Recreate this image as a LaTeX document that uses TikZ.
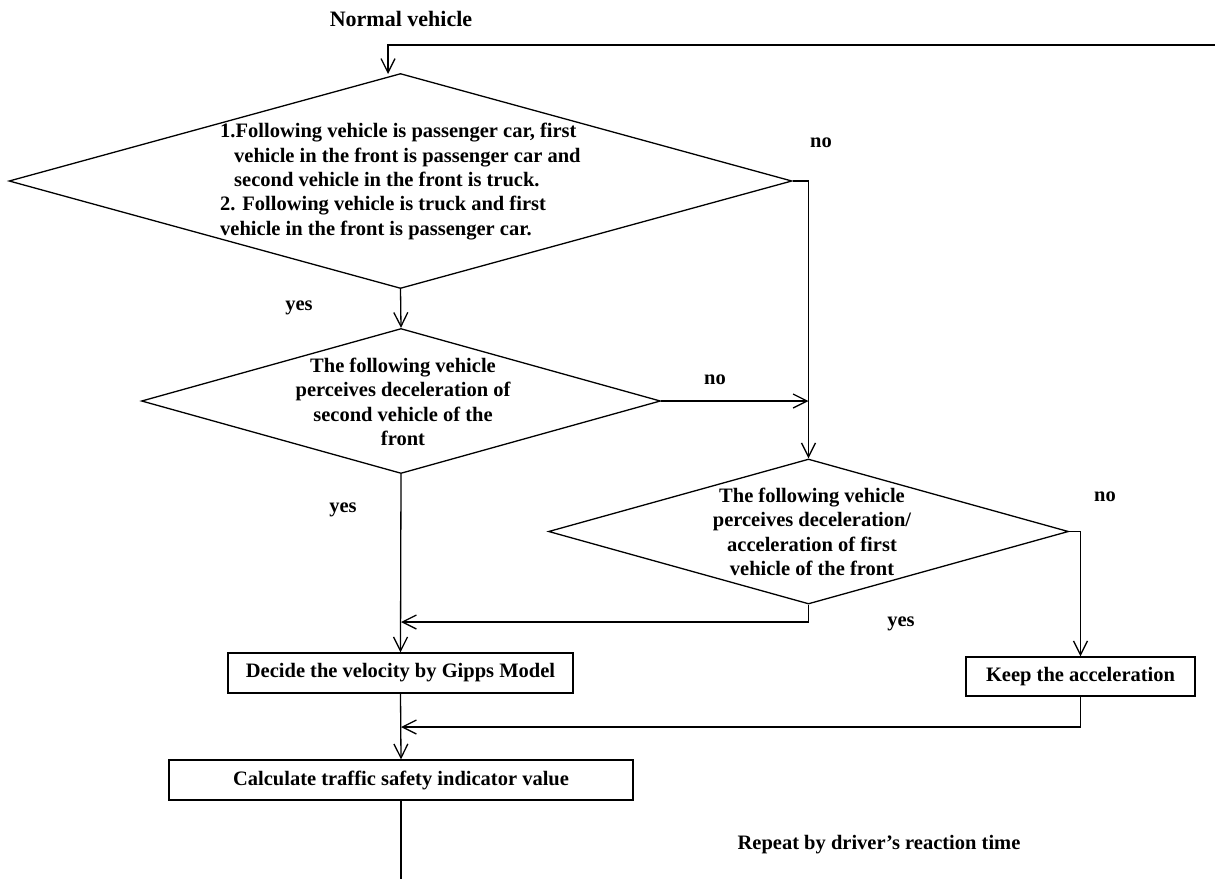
\documentclass[tikz,border=0pt]{standalone}
\usepackage{fontspec}
\setmainfont{Liberation Serif}
\usetikzlibrary{shapes.geometric,arrows.meta}
\begin{document}
\begin{tikzpicture}[x=1pt,y=-1pt,
  every node/.style={font=\bfseries\fontsize{20.5}{24.3}\selectfont, inner sep=0pt},
  dia/.style={draw, diamond, line width=1.3pt, minimum width=#1},
  box/.style={draw, rectangle, line width=1.3pt},
  conn/.style={line width=1.3pt},
  arr/.style={line width=1.3pt, -{Straight Barb[length=14pt,width=14pt]}},
  lbl/.style={anchor=center}
]
\useasboundingbox (0,0) rectangle (1215,879);

% title
\node[font=\bfseries\fontsize{22}{26}\selectfont] (title) at (401,19) {Normal vehicle};

% decision 1
\node[dia=783pt, minimum height=215pt] (d1) at (400.5,181) {};
\node[anchor=west, align=left] (t1) at (220,181.5)
  {1.Following vehicle is passenger car, first\\
   \hspace*{14pt}vehicle in the front is passenger car and\\
   \hspace*{14pt}second vehicle in the front is truck.\\
   2. Following vehicle is truck and first\\
   vehicle in the front is passenger car.};

% decision 2
\node[dia=519pt, minimum height=145pt] (d2) at (401,401) {};
\node[align=center] (t2) at (403,402)
  {The following vehicle\\perceives deceleration of\\second vehicle of the\\front};

% decision 3
\node[dia=520pt, minimum height=145pt] (d3) at (808.5,531.5) {};
\node[align=center] (t3) at (812,532)
  {The following vehicle\\perceives deceleration/\\acceleration of first\\vehicle of the front};

% boxes
\node[box, minimum width=345pt, minimum height=40pt] (dec) at (400.5,673) {Decide the velocity by Gipps Model};
\node[box, minimum width=229pt, minimum height=39pt] (keep) at (1080.5,676.5) {Keep the acceleration};
\node[box, minimum width=464pt, minimum height=40pt] (calc) at (401,780) {Calculate traffic safety indicator value};

% labels
\node[lbl] (no1) at (821,143) {no};
\node[lbl] (yes1) at (299,308) {yes};
\node[lbl] (no2) at (715,380) {no};
\node[lbl] (yes2) at (343,510) {yes};
\node[lbl] (no3) at (1105,497) {no};
\node[lbl] (yes3) at (901,624) {yes};
\node[lbl] (rep) at (879,845) {Repeat by driver’s reaction time};

% coordinates
\coordinate (tr) at (1215,45);
\coordinate (in1) at (388,74);
\coordinate (j1) at (d3.north |- d2.east);
\coordinate (j2) at (401,622);
\coordinate (j3) at (401,727);
\coordinate (bend) at (401,879);

% connectors
\draw[arr] (tr) -| (in1);
\draw[arr] (d1.east) -| (d3.north);
\draw[arr] (d1.south) -- (d2.north);
\draw[arr] (d2.east) -- (j1);
\draw[arr] (d2.south) -- (dec.north);
\draw[arr] (d3.south) |- (j2);
\draw[arr] (d3.east) -| (keep.north);
\draw[arr] (keep.south) |- (j3);
\draw[arr] (dec.south) -- (calc.north);
\draw[conn] (calc.south) -- (bend);
\end{tikzpicture}
\end{document}
